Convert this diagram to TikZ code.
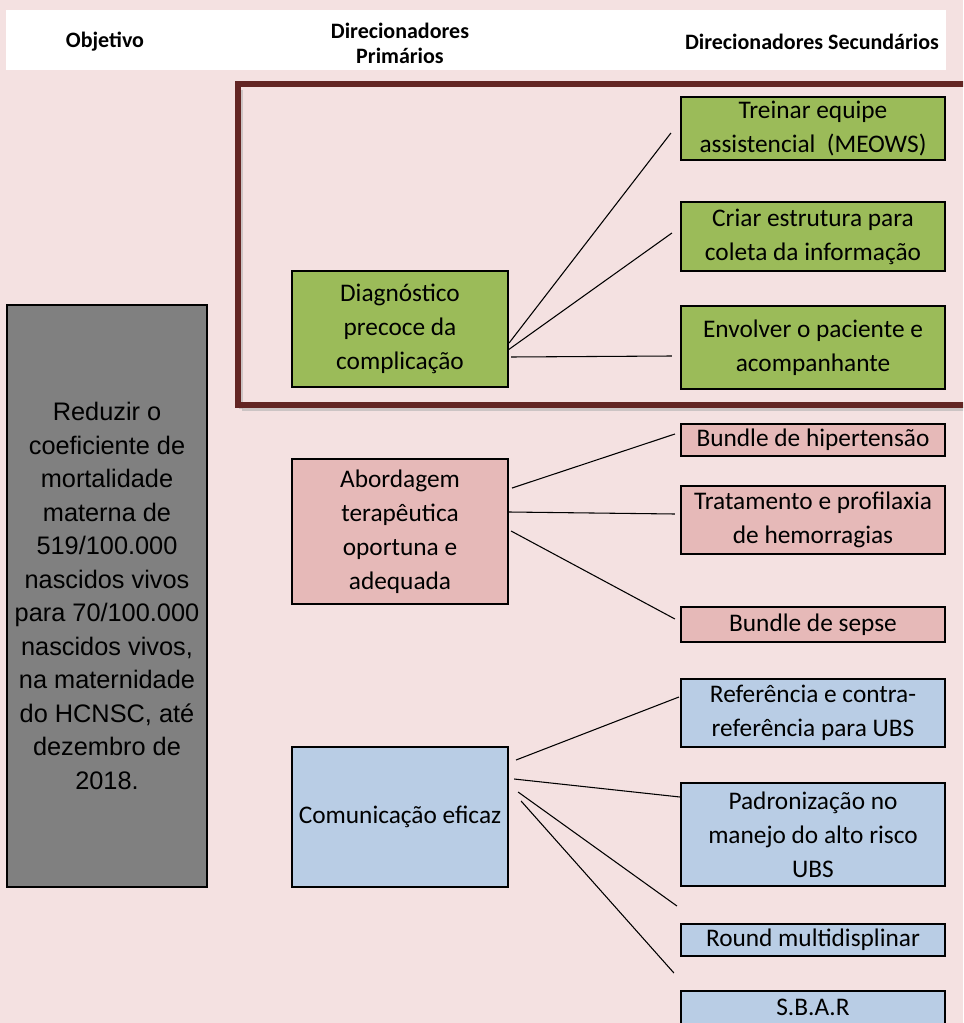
\documentclass[tikz,border=0pt]{standalone}
\usepackage{fontspec}
\setmainfont{Carlito}
\newfontfamily\arialf{Liberation Sans}
\usetikzlibrary{calc}
\definecolor{bgpink}{HTML}{F4E1E1}
\definecolor{gfill}{HTML}{9BBB59}
\definecolor{pfill}{HTML}{E6B9B8}
\definecolor{bfill}{HTML}{B9CDE5}
\definecolor{framered}{HTML}{632523}
\newlength{\pxu}\setlength{\pxu}{0.75pt}
\tikzset{
  box/.style={draw=black, line width=1.6pt, inner sep=0pt, align=center,
    font=\fontsize{19}{25.5}\selectfont},
  secbox/.style={box, minimum width=264\pxu},
  primbox/.style={box, minimum width=216\pxu},
  conn/.style={draw=black, line width=0.8pt},
  head/.style={font=\bfseries\fontsize{16.5}{18.75}\selectfont, align=center}
}
\begin{document}
\begin{tikzpicture}[x=0.75pt,y=-0.75pt]
\useasboundingbox (0,0) rectangle (963,1023);
\clip (0,0) rectangle (963,1023);
\fill[bgpink] (0,0) rectangle (963,1023);
% header
\fill[white] (6,10) rectangle (946,70);
\node[head] (h1) at (105,42) {Objetivo};
\node[head] (h2) at (400,43) {Direcionadores\\Primários};
\node[head] (h3) at (812,42) {Direcionadores Secundários};
% frame with shadow
\draw[black!30, line width=3pt, opacity=0.6] (242,409) -- (975,409);
\draw[black!30, line width=3pt, opacity=0.6] (241,90) -- (241,409);
\draw[framered, line width=3.8pt] (238,84) rectangle (975,405);
% objective
\node[box, fill=black!50, minimum width=200\pxu, minimum height=582\pxu,
  font=\arialf\fontsize{19}{25.1}\selectfont] (obj) at (107,596)
  {Reduzir o\\coeficiente de\\mortalidade\\materna de\\519/100.000\\nascidos vivos\\para 70/100.000\\nascidos vivos,\\na maternidade\\do HCNSC, até\\dezembro de\\2018.};
% primary drivers
\node[primbox, fill=gfill, minimum height=116\pxu] (d) at (400,329) {Diagnóstico\\precoce da\\complicação};
\node[primbox, fill=pfill, minimum height=145\pxu] (a) at (400,531.5) {Abordagem\\terapêutica\\oportuna e\\adequada};
\node[primbox, fill=bfill, minimum height=140\pxu] (c) at (400,817) {Comunicação eficaz};
% secondary drivers
\node[secbox, fill=gfill, minimum height=63\pxu] (t1) at (813,128.5) {Treinar equipe\\assistencial~ (MEOWS)};
\node[secbox, fill=gfill, minimum height=69\pxu] (t2) at (813,236.5) {Criar estrutura para\\coleta da informação};
\node[secbox, fill=gfill, minimum height=83\pxu] (t3) at (813,347.5) {Envolver o paciente e\\acompanhante};
\node[secbox, fill=pfill, minimum height=32\pxu] (b1) at (813,440) {Bundle de hipertensão};
\node[secbox, fill=pfill, minimum height=68\pxu] (b2) at (813,520) {Tratamento e profilaxia\\de hemorragias};
\node[secbox, fill=pfill, minimum height=35\pxu] (b3) at (813,624.5) {Bundle de sepse};
\node[secbox, fill=bfill, minimum height=68\pxu] (c1) at (813,713) {Referência e contra-\\referência para UBS};
\node[secbox, fill=bfill, minimum height=103\pxu] (c2) at (813,834.5) {Padronização no\\manejo do alto risco\\UBS};
\node[secbox, fill=bfill, minimum height=32\pxu] (c3) at (813,940) {Round multidisplinar};
\node[secbox, fill=bfill, minimum height=36\pxu, text depth=0pt] (c4) at (813,1009) {\raisebox{3pt}{S.B.A.R}};
% connectors
\draw[conn] ($(d.east)+(0,14)$) -- ($(t1.west)+(-9,4.5)$);
\draw[conn] ($(d.east)+(-1,21)$) -- ($(t2.west)+(-8,-3.5)$);
\draw[conn] ($(d.east)+(2,28)$) -- ($(t3.west)+(-8,8.5)$);
\draw[conn] ($(a.east)+(3,-43.5)$) -- ($(b1.west)+(-5,-6)$);
\draw[conn] ($(a.east)+(0,-19.5)$) -- ($(b2.west)+(-5,-6)$);
\draw[conn] ($(a.east)+(2,-0.5)$) -- ($(b3.west)+(-5,-5.5)$);
\draw[conn] ($(c.east)+(7,-57)$) -- ($(c1.west)+(-1,-16)$);
\draw[conn] ($(c.east)+(5,-38)$) -- ($(c2.west)+(0,-37.5)$);
\draw[conn] ($(c.east)+(9,-25)$) -- ($(c3.west)+(-3,-34)$);
\draw[conn] ($(c.east)+(12,-16)$) -- ($(c4.west)+(-6,-36)$);
\end{tikzpicture}
\end{document}
